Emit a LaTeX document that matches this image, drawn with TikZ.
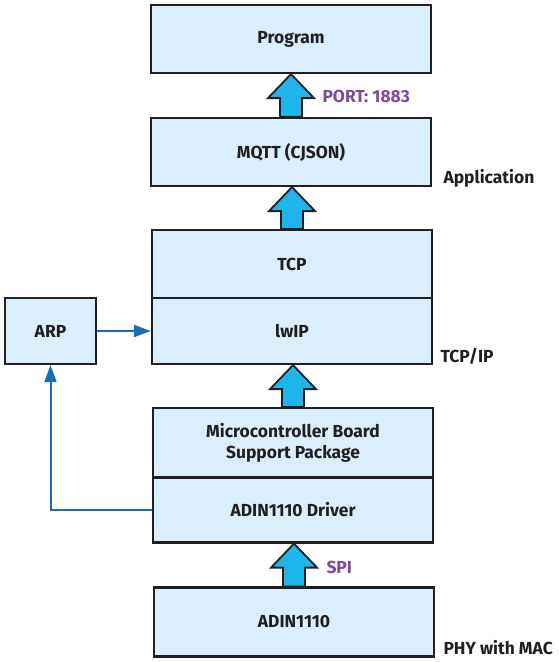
\documentclass[tikz,border=0pt]{standalone}
\usepackage{fontspec}
\setmainfont{Fira Sans}
\usetikzlibrary{calc,arrows.meta}
\definecolor{boxfill}{HTML}{DAEEFB}
\definecolor{boxline}{HTML}{231F20}
\definecolor{arrowfill}{HTML}{1DB5EA}
\definecolor{linkblue}{HTML}{1A6EB5}
\definecolor{portpurple}{HTML}{7D4B9C}
\def\blockarrow(#1)(#2){\draw[blockarrow] let \p1=(#1), \p2=(#2) in (\x1-11bp,\y1) -- (\x1-11bp,\y2-24bp) -- (\x1-23bp,\y2-24bp) -- (\x1,\y2) -- (\x1+23bp,\y2-24bp) -- (\x1+11bp,\y2-24bp) -- (\x1+11bp,\y1) -- cycle;}

\begin{document}
\begin{tikzpicture}[x=1bp,y=-1bp,
	layer/.style={draw=boxline, line width=2.2bp, fill=boxfill, text=boxline, font=\bfseries\fontsize{17.5}{21}\selectfont, align=center, inner sep=0pt, minimum width=280bp},
	blockarrow/.style={draw=boxline, line width=1.8bp, fill=arrowfill},
	link/.style={draw=linkblue, line width=2bp, -{Triangle[length=17bp,width=12bp]}},
	tag/.style={font=\bfseries\fontsize{17.5}{21}\selectfont, anchor=west, text=boxline},
	porttag/.style={tag, text=portpurple}]
			%%%%% START %%%%%
			
			\useasboundingbox (0,0) rectangle (559,662);
			
			\node[layer, minimum height=68bp] (prog) at (291,39) {Program};
			\node[layer, minimum height=68bp] (mqtt) at (291,152) {MQTT (CJSON)};
			
			\node[layer, minimum height=68bp] (tcp) at (292,264) {TCP};
			\node[layer, minimum height=66bp] (lwip) at (292,331) {lwIP};
			\node[layer, minimum width=91bp, minimum height=66bp] (arp) at (50.5,331) {ARP};
			
			\node[layer, minimum height=70bp] (mcu) at (293,443) {Microcontroller Board\\Support Package};
			\node[layer, minimum height=65bp] (drv) at (293,510) {ADIN1110 Driver};
			
			\node[layer, minimum height=69bp] (adin) at (294,622) {ADIN1110};
			
			\blockarrow(mqtt.north)(prog.south);
			\blockarrow(tcp.north)(mqtt.south);
			\blockarrow(mcu.north)(lwip.south);
			\blockarrow(adin.north)(drv.south);
			
			\draw[link] (arp.east) -- (lwip.west);
			\draw[link] (drv.west) -| (arp.south);
			
			\node[porttag] (port) at (319,96) {PORT: 1883};
			\node[porttag] (spi) at (323,567) {SPI};
			
			\node[tag] (app) at (440,178) {Application};
			\node[tag] (stack) at (437,356) {TCP/IP};
			\node[tag] (phy) at (440,648) {PHY with MAC};
			
			%%%%% END %%%%%
\end{tikzpicture}
\end{document}
